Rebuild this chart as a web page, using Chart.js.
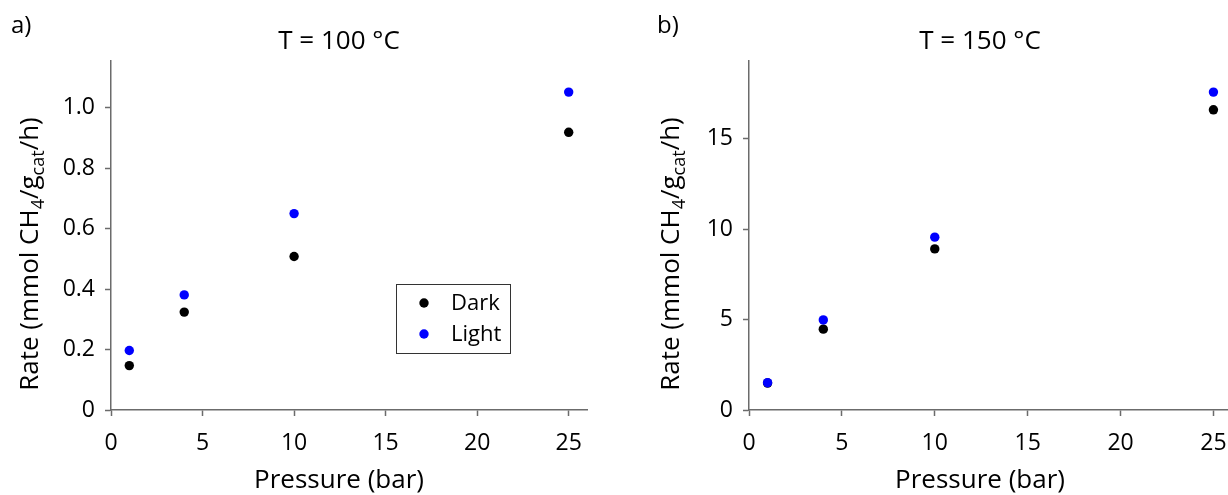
<!DOCTYPE html>
<html>
<head>
<meta charset="utf-8">
<script src="https://cdn.jsdelivr.net/npm/chart.js@4.4.0/dist/chart.umd.min.js"></script>
<style>
  html, body { margin: 0; padding: 0; background: #fff; overflow: hidden; width: 1228px; height: 495px; }
  .panel { position: absolute; top: 0; height: 495px; }
  #p1 { left: 0; width: 614px; }
  #p2 { left: 614px; width: 640px; }
</style>
</head>
<body>
<div class="panel" id="p1"><canvas id="c1"></canvas></div>
<div class="panel" id="p2"><canvas id="c2"></canvas></div>
<script>
// dados
const pressure = [1, 4, 10, 25];
const dark100 = [0.147, 0.324, 0.508, 0.919];
const light100 = [0.197, 0.381, 0.650, 1.052];
const dark150 = [1.49, 4.47, 8.91, 16.6];
const light150 = [1.51, 4.98, 9.56, 17.58];
const seriesNames = ['Dark', 'Light'];
const seriesColors = ['#000000', '#0000ff'];

const FONT = "'Open Sans', 'DejaVu Sans', sans-serif";
const axisGray = '#6b6b6b';
const H = 495;

// títulos, letra do painel, eixo y com subscritos e legenda
const labelsPlugin = {
  id: 'panelLabels',
  afterDraw(chart, args, o) {
    const ctx = chart.ctx;
    ctx.save();
    ctx.fillStyle = '#000';
    ctx.textBaseline = 'alphabetic';

    ctx.font = `24px ${FONT}`;
    ctx.textAlign = 'left';
    ctx.fillText(o.letter, o.letterX, 33);

    ctx.font = `26px ${FONT}`;
    ctx.textAlign = 'center';
    ctx.fillText(o.title, o.centerX, 49);
    ctx.fillText('Pressure (bar)', o.centerX, 488);

    // Rate (mmol CH4/gcat/h)
    const parts = [
      { t: 'Rate (mmol CH' }, { t: '4', sub: true }, { t: '/g' }, { t: 'cat', sub: true }, { t: '/h)' }
    ];
    const big = 26, small = 18;
    let total = 0;
    parts.forEach(p => {
      ctx.font = `${p.sub ? small : big}px ${FONT}`;
      p.w = ctx.measureText(p.t).width;
      total += p.w;
    });
    ctx.translate(o.yTitleX, 254);
    ctx.rotate(-Math.PI / 2);
    ctx.textAlign = 'left';
    let u = -total / 2;
    parts.forEach(p => {
      ctx.font = `${p.sub ? small : big}px ${FONT}`;
      ctx.fillText(p.t, u, p.sub ? 6 : 0);
      u += p.w;
    });
    ctx.setTransform(1, 0, 0, 1, 0, 0);

    if (o.legend) {
      const L = o.legend;
      ctx.strokeStyle = '#333';
      ctx.lineWidth = 1;
      ctx.strokeRect(L.left + 0.5, L.top + 0.5, L.width, L.height);
      ctx.font = `22px ${FONT}`;
      ctx.textAlign = 'left';
      ctx.textBaseline = 'middle';
      chart.data.datasets.forEach((ds, i) => {
        const y = L.top + 19 + i * 31;
        ctx.fillStyle = ds.backgroundColor;
        ctx.beginPath();
        ctx.arc(L.left + 28, y, 4.7, 0, Math.PI * 2);
        ctx.fill();
        ctx.fillStyle = '#000';
        ctx.fillText(ds.label, L.left + 55, y + 1);
      });
    }
    ctx.restore();
  }
};

function makePanel(id, width, area, dark, light, yMax, yStep, yFmt, labels) {
  const ctx = document.getElementById(id).getContext('2d');
  const series = [dark, light];
  return new Chart(ctx, {
    type: 'scatter',
    data: {
      datasets: series.map((vals, i) => ({
        label: seriesNames[i],
        data: pressure.map((p, j) => ({ x: p, y: vals[j] })),
        backgroundColor: seriesColors[i],
        borderWidth: 0,
        pointRadius: 4.7,
        pointHoverRadius: 4.7,
        order: 1 - i
      }))
    },
    options: {
      responsive: true,
      maintainAspectRatio: false,
      animation: false,
      events: [],
      layout: { padding: { left: 0, top: area.top, right: width - area.right, bottom: 0 } },
      plugins: {
        legend: { display: false },
        tooltip: { enabled: false },
        title: { display: false },
        panelLabels: labels
      },
      scales: {
        x: {
          type: 'linear', min: 0, max: 26,
          afterFit: (s) => { s.height = H - area.bottom; },
          ticks: { stepSize: 5, includeBounds: false, color: '#000', font: { family: FONT, size: 23 }, padding: 14, maxRotation: 0 },
          grid: { drawOnChartArea: false, tickLength: 6, tickColor: axisGray, tickWidth: 1.5 },
          border: { color: axisGray, width: 1.5 }
        },
        y: {
          type: 'linear', min: 0, max: yMax,
          afterFit: (s) => { s.width = area.left; },
          ticks: { stepSize: yStep, includeBounds: false, color: '#000', font: { family: FONT, size: 23 }, padding: 10, callback: yFmt },
          grid: { drawOnChartArea: false, tickLength: 6, tickColor: axisGray, tickWidth: 1.5 },
          border: { color: axisGray, width: 1.5 }
        }
      }
    },
    plugins: [labelsPlugin]
  });
}

makePanel('c1', 614, { left: 111, right: 587, top: 61, bottom: 410 },
  dark100, light100, 1.155, 0.2, v => (v === 0 ? '0' : v.toFixed(1)),
  { letter: 'a)', letterX: 11, title: 'T = 100 °C', centerX: 339, yTitleX: 38,
    legend: { left: 396, top: 284, width: 114, height: 69 } });

makePanel('c2', 640, { left: 135, right: 618, top: 61, bottom: 410 },
  dark150, light150, 19.3, 5, v => String(v),
  { letter: 'b)', letterX: 43, title: 'T = 150 °C', centerX: 366, yTitleX: 65, legend: null });
</script>
</body>
</html>
